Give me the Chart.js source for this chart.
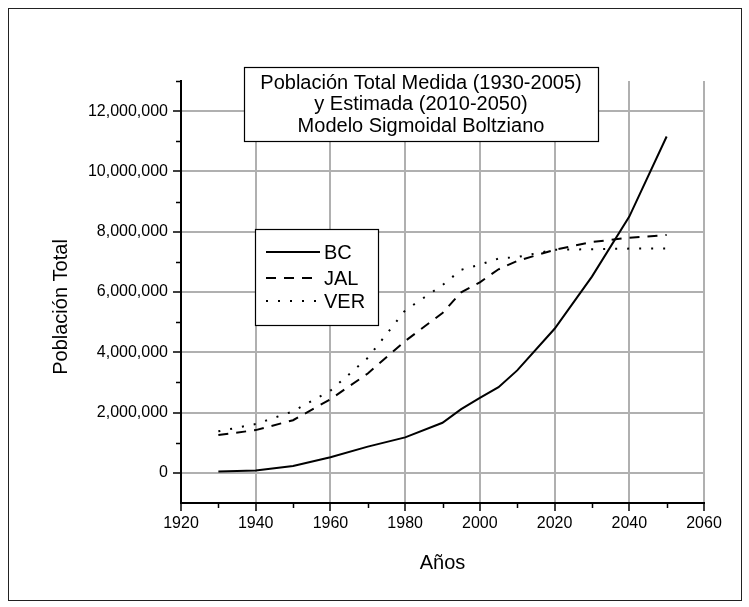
<!DOCTYPE html>
<html>
<head>
<meta charset="utf-8">
<script src="https://cdn.jsdelivr.net/npm/chart.js@4.4.1/dist/chart.umd.min.js"></script>
<style>
  html, body { margin: 0; padding: 0; background: #fff; }
  #grafico { display: block; }
</style>
</head>
<body>
<canvas id="grafico" width="749" height="607"></canvas>
<script>
// ======================================================
// 1. DADOS
// ======================================================

const anos = [1930, 1940, 1950, 1960, 1970, 1980, 1990, 1995, 2000, 2005, 2010, 2020, 2030, 2040, 2050];
const poblacionBC  = [48000, 79000, 227000, 520000, 870000, 1178000, 1661000, 2112000, 2487000, 2844000, 3400000, 4780000, 6510000, 8500000, 11160000];
const poblacionJAL = [1255000, 1418000, 1747000, 2443000, 3297000, 4372000, 5303000, 5991000, 6322000, 6753000, 7030000, 7400000, 7660000, 7800000, 7890000];
const poblacionVER = [1377000, 1620000, 2040000, 2728000, 3815000, 5388000, 6228000, 6737000, 6909000, 7110000, 7160000, 7400000, 7420000, 7440000, 7440000];

const ticksX = [1920, 1940, 1960, 1980, 2000, 2020, 2040, 2060];
const ticksMenoresX = [1930, 1950, 1970, 1990, 2010, 2030, 2050];
const ticksY = [0, 2000000, 4000000, 6000000, 8000000, 10000000, 12000000];
const ticksMenoresY = [1000000, 3000000, 5000000, 7000000, 9000000, 11000000, 13000000];

const tituloLineas = ['Población Total Medida (1930-2005)', 'y Estimada (2010-2050)', 'Modelo Sigmoidal Boltziano'];
const series = ['BC', 'JAL', 'VER'];

const fonte = "'Liberation Sans', Arial, sans-serif";

function pontos(valores) {
  return anos.map((a, i) => ({ x: a, y: valores[i] }));
}

// ======================================================
// 2. PLUGIN: moldura, título, legenda, ticks menores
// ======================================================

const moldura = {
  id: 'moldura',
  afterDraw(chart) {
    const ctx = chart.ctx;
    const area = chart.chartArea;
    const sx = chart.scales.x;
    const sy = chart.scales.y;
    ctx.save();

    // ticks menores
    ctx.strokeStyle = '#000';
    ctx.lineWidth = 1.5;
    ctx.beginPath();
    ticksMenoresX.forEach(v => {
      const px = Math.round(sx.getPixelForValue(v)) + 0.5;
      ctx.moveTo(px, area.bottom);
      ctx.lineTo(px, area.bottom + 5);
    });
    ticksMenoresY.forEach(v => {
      const py = Math.round(sy.getPixelForValue(v)) + 0.5;
      ctx.moveTo(area.left, py);
      ctx.lineTo(area.left - 5, py);
    });
    ctx.stroke();

    // moldura externa
    ctx.lineWidth = 1;
    ctx.strokeStyle = '#222';
    ctx.strokeRect(8.5, 8.5, 733, 592);

    // caixa do título
    ctx.fillStyle = '#fff';
    ctx.fillRect(244, 67, 354, 74);
    ctx.strokeStyle = '#000';
    ctx.lineWidth = 1.2;
    ctx.strokeRect(244.5, 67.5, 354, 74);
    ctx.fillStyle = '#000';
    ctx.font = '20px ' + fonte;
    ctx.textAlign = 'center';
    ctx.textBaseline = 'middle';
    tituloLineas.forEach((t, i) => ctx.fillText(t, 421, 83 + i * 21.5));

    // legenda
    ctx.fillStyle = '#fff';
    ctx.fillRect(255, 229, 123, 96);
    ctx.strokeRect(255.5, 229.5, 123, 96);
    const yLeg = [252, 278, 301];
    chart.data.datasets.forEach((ds, i) => {
      ctx.beginPath();
      ctx.setLineDash(ds.borderDash || []);
      ctx.lineWidth = ds.borderWidth;
      ctx.strokeStyle = ds.borderColor;
      ctx.moveTo(266, yLeg[i]);
      ctx.lineTo(320, yLeg[i]);
      ctx.stroke();
      ctx.setLineDash([]);
      ctx.fillStyle = '#000';
      ctx.font = '20px ' + fonte;
      ctx.textAlign = 'left';
      ctx.fillText(ds.label, 324, yLeg[i] + 1);
    });

    // títulos dos eixos
    ctx.fillStyle = '#000';
    ctx.font = '20px ' + fonte;
    ctx.textAlign = 'center';
    ctx.fillText('Años', (area.left + area.right) / 2, 563);
    ctx.translate(61, 307);
    ctx.rotate(-Math.PI / 2);
    ctx.fillText('Población Total', 0, 0);

    ctx.restore();
  }
};

// ======================================================
// 3. GRÁFICO
// ======================================================

new Chart(document.getElementById('grafico'), {
  type: 'line',
  data: {
    datasets: [
      { label: series[0], data: pontos(poblacionBC), borderColor: '#000', borderWidth: 2, pointRadius: 0, tension: 0, fill: false },
      { label: series[1], data: pontos(poblacionJAL), borderColor: '#000', borderWidth: 2, borderDash: [10, 8], pointRadius: 0, tension: 0, fill: false },
      { label: series[2], data: pontos(poblacionVER), borderColor: '#000', borderWidth: 2, borderDash: [2, 10], pointRadius: 0, tension: 0, fill: false }
    ]
  },
  options: {
    responsive: false,
    animation: false,
    events: [],
    layout: { padding: { top: 81, right: 45, bottom: 0, left: 0 } },
    plugins: {
      legend: { display: false },
      tooltip: { enabled: false }
    },
    scales: {
      x: {
        type: 'linear',
        min: 1920,
        max: 2060,
        afterBuildTicks: s => { s.ticks = ticksX.map(v => ({ value: v })); },
        afterFit: s => { s.height = 104; },
        grid: { color: '#b0b0b0', lineWidth: 2, tickColor: '#000', tickLength: 8, tickWidth: 1.5 },
        border: { color: '#000', width: 2 },
        ticks: { color: '#000', font: { family: fonte, size: 16 }, padding: 3, maxRotation: 0, autoSkip: false, callback: v => String(v) }
      },
      y: {
        min: -1000000,
        max: 13000000,
        afterBuildTicks: s => { s.ticks = ticksY.map(v => ({ value: v })); },
        afterFit: s => { s.width = 181; },
        grid: { color: '#b0b0b0', lineWidth: 2, tickColor: '#000', tickLength: 8, tickWidth: 1.5 },
        border: { color: '#000', width: 2 },
        ticks: { color: '#000', font: { family: fonte, size: 16 }, padding: 5, autoSkip: false, callback: v => Number(v).toLocaleString('en-US') }
      }
    }
  },
  plugins: [moldura]
});
</script>
</body>
</html>
